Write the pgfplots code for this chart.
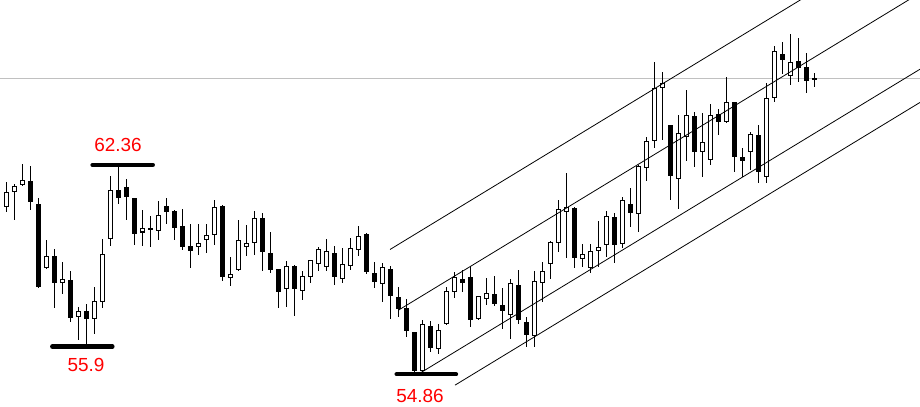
\documentclass[border=0pt]{standalone}
\usepackage{pgfplots}
\usepackage{pgfplotstable}
\pgfplotsset{compat=1.18}
\usepackage{fontspec}
\setmainfont{Liberation Sans}
\definecolor{lvl}{HTML}{C0C0C0}

\pgfplotstableread{
k o h l c
0 60.86 61.74 60.68 61.38
1 61.40 61.68 60.39 61.60
2 61.69 62.39 61.61 61.77
5 58.65 59.67 58.63 59.10
7 58.15 58.87 57.72 58.24
9 56.93 57.26 56.08 57.11
11 56.83 57.99 56.29 57.48
12 57.46 59.69 57.24 59.16
13 59.69 61.96 59.46 61.45
17 59.94 60.73 59.46 60.10
19 59.98 61.07 59.67 60.55
24 59.43 60.24 59.13 59.56
25 59.69 60.24 59.21 59.84
26 59.84 61.10 59.49 60.85
28 58.33 59.05 58.03 58.44
29 58.58 60.39 58.56 59.66
30 59.44 60.21 59.10 59.56
31 59.55 60.71 59.13 60.45
35 57.92 58.92 57.28 58.73
37 57.85 58.56 57.53 58.37
38 58.35 58.96 58.12 58.94
39 58.80 59.41 58.56 59.34
40 58.69 59.70 58.56 59.27
42 58.26 59.38 58.14 58.81
43 58.74 59.73 58.58 59.37
44 59.31 60.17 59.11 59.81
47 58.08 58.83 57.46 58.69
52 54.98 56.80 54.89 56.65
54 55.75 56.65 55.58 56.44
55 56.65 57.99 56.63 57.85
56 57.82 58.51 57.60 58.35
59 56.83 57.67 56.81 57.65
60 57.56 58.30 57.34 57.79
63 56.97 58.26 56.12 58.12
66 56.23 58.55 55.84 58.19
67 58.12 58.89 57.44 58.56
68 58.80 59.64 58.26 59.60
69 59.55 61.10 59.23 60.77
70 60.74 62.06 59.01 60.80
72 59.05 59.53 58.71 59.12
73 58.68 59.53 58.47 59.27
74 59.29 60.34 58.71 59.42
75 59.49 60.71 59.07 60.53
77 59.53 61.22 59.37 61.10
79 60.59 62.36 59.97 62.32
80 62.26 63.35 61.78 63.22
81 63.22 66.06 62.98 65.11
82 65.14 65.70 63.25 65.28
84 61.86 64.15 60.77 63.49
85 63.37 65.04 62.51 64.14
87 62.81 64.23 61.94 63.18
88 62.54 64.54 62.35 64.14
90 63.89 65.50 63.87 64.60
93 62.81 63.53 62.18 63.46
95 61.94 65.28 61.70 64.75
96 64.75 66.63 64.63 66.45
98 65.56 67.05 65.22 66.06
}\up

\pgfplotstableread{
k o h l c
3 61.78 62.32 60.74 61.02
4 60.96 61.16 57.95 57.97
6 59.10 59.35 57.24 58.12
8 58.24 58.56 56.72 56.86
10 57.11 57.37 55.90 56.83
14 61.45 62.36 60.95 61.16
15 61.56 61.84 60.40 61.20
16 61.16 61.18 59.51 59.89
18 60.10 60.53 59.41 60.02
20 60.89 61.16 60.23 60.68
21 60.71 60.74 59.67 60.11
22 60.17 60.78 59.31 59.41
23 59.45 60.24 58.68 59.29
27 60.90 60.92 58.21 58.35
32 60.46 60.64 58.57 59.25
33 59.20 59.96 58.47 58.60
34 58.63 58.65 57.24 57.82
36 58.73 58.77 56.96 57.92
41 59.20 59.45 58.07 58.35
45 59.87 59.91 58.44 58.53
46 58.50 58.89 57.94 58.15
48 58.62 58.74 56.83 57.65
49 57.61 57.98 56.92 57.21
50 57.24 57.54 56.18 56.42
51 56.37 56.39 54.86 54.98
53 56.59 56.78 55.67 55.79
57 58.27 58.59 57.82 58.14
58 58.34 58.74 56.54 56.80
61 57.73 58.38 57.30 57.39
62 57.33 57.94 56.47 57.13
64 58.05 58.59 56.65 56.79
65 56.74 56.92 55.84 56.25
71 60.82 60.84 58.68 59.03
76 60.50 60.63 58.83 59.49
78 60.96 61.52 60.15 60.65
83 63.78 63.80 61.10 61.97
86 64.11 64.27 62.30 62.81
89 64.18 64.35 63.43 63.89
91 64.60 64.63 62.09 62.63
92 62.63 62.95 61.94 62.51
94 63.42 63.79 61.70 62.12
97 66.33 66.78 65.62 66.12
99 66.08 66.90 65.34 65.84
100 65.86 66.36 64.93 65.38
101 65.45 65.66 65.14 65.44
}\down

\begin{document}
\begin{tikzpicture}
\begin{axis}[
  width=920bp, height=427bp, scale only axis, hide axis,
  xmin=-0.79, xmax=114.21, ymin=52.97, ymax=68.27,
  clip=true,
  cdl/.style 2 args={draw=none, mark=none,
    error bars/.cd, y dir=both, y explicit, error mark=none,
    error bar style={draw=#1, line width=#2}},
]
% last price level
\addplot[lvl, line width=1bp] coordinates {(-1,65.44) (115,65.44)};
% wicks
\addplot[cdl={black}{1bp}] table[x=k, y expr={(\thisrow{h}+\thisrow{l})/2}, y error expr={(\thisrow{h}-\thisrow{l})/2}] {\up};
\addplot[cdl={black}{1bp}] table[x=k, y expr={(\thisrow{h}+\thisrow{l})/2}, y error expr={(\thisrow{h}-\thisrow{l})/2}] {\down};
% bodies
\addplot[cdl={black}{5bp}] table[x=k, y expr={(\thisrow{o}+\thisrow{c})/2}, y error expr={max(abs(\thisrow{o}-\thisrow{c})/2,0.018)}] {\down};
\addplot[cdl={black}{5bp}] table[x=k, y expr={(\thisrow{o}+\thisrow{c})/2}, y error expr={max(abs(\thisrow{o}-\thisrow{c})/2,0.08)}] {\up};
\addplot[cdl={white}{3bp}] table[x=k, y expr={(\thisrow{o}+\thisrow{c})/2}, y error expr={max(abs(\thisrow{o}-\thisrow{c})/2-0.036,0.044)}] {\up};
% channel lines
\addplot[black, line width=0.8bp] coordinates {(47.96,59.33) (101.71,68.70)};
\addplot[black, line width=0.8bp] coordinates {(49.04,57.16) (114.21,68.52)};
\addplot[black, line width=0.8bp] coordinates {(51.71,54.90) (114.21,65.79)};
\addplot[black, line width=0.8bp] coordinates {(56.09,54.47) (114.21,64.60)};
% extreme marks
\addplot[black, line width=4.5bp, line cap=round] coordinates {(10.79,62.36) (18.30,62.36)};
\addplot[black, line width=4.5bp, line cap=round] coordinates {(5.75,55.85) (13.25,55.85)};
\addplot[black, line width=4.5bp, line cap=round] coordinates {(48.80,54.86) (56.20,54.86)};
\node[red, font=\fontsize{19}{20}\selectfont] at (axis cs:13.96,63.07) {62.36};
\node[red, font=\fontsize{19}{20}\selectfont] at (axis cs:9.96,55.20) {55.9};
\node[red, font=\fontsize{19}{20}\selectfont] at (axis cs:51.71,54.08) {54.86};
\end{axis}
\end{tikzpicture}
\end{document}
